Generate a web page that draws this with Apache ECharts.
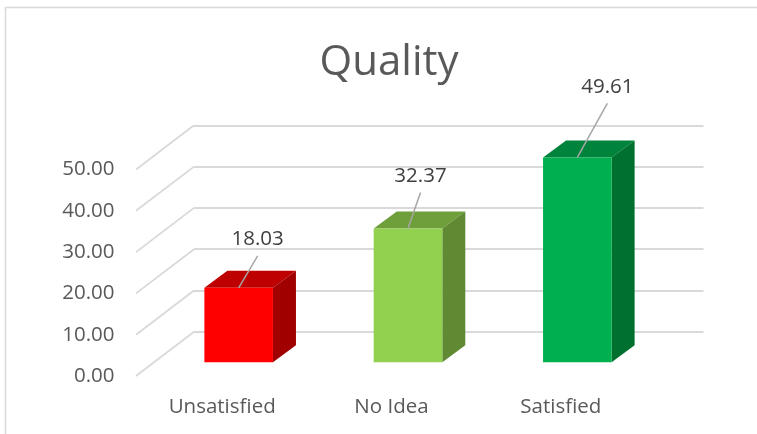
<!DOCTYPE html>
<html><head><meta charset="utf-8">
<style>html,body{margin:0;padding:0;background:#fff}#c{width:757px;height:434px}</style>
<script src="https://cdn.jsdelivr.net/npm/echarts@6/dist/echarts.min.js"></script>
</head><body><div id="c"></div>
<script>
const categories = ['Unsatisfied', 'No Idea', 'Satisfied'];
const values = [18.03, 32.37, 49.61];
const wallTicks = [0, 10, 20, 30, 40, 50];
const faceColors = ['#FF0000', '#92D050', '#00B050'];
const topColors = ['#BF0000', '#6F9F3B', '#00843C'];
const sideColors = ['#A00000', '#5F8A33', '#00702F'];
const leaderEnds = [[19, -32], [12.5, -36], [30, -54]];
const labelLift = 16.5;
const FONT = '"Open Sans"';
const GREY = '#D9D9D9';
const DEPTH_X = 23, DEPTH_Y = 17;

const chart = echarts.init(document.getElementById('c'));
function hiddenY(i){return {gridIndex:i,type:'value',min:0,max:50,interval:10,show:false};}
function hiddenX(i){return {gridIndex:i,type:'category',data:categories,show:false};}
chart.setOption({
  animation:false,
  backgroundColor:'#fff',
  title:{text:'Quality',left:384,top:37,textAlign:'center',
    textStyle:{fontFamily:FONT,fontSize:42,fontWeight:'normal',color:'#595959'}},
  graphic:[{type:'polyline',silent:true,shape:{points:[[5.5,434],[5.5,7.5],[757,7.5]]},
    style:{stroke:GREY,lineWidth:1.5,fill:null}}],
  grid:[
    {left:194,top:125.3,width:509.5,height:206.5},
    {left:137.5,top:169.5,width:508,height:206.5},
    {left:154,top:155.8,width:508,height:206.5}
  ],
  xAxis:[hiddenX(0),
    {gridIndex:1,type:'category',data:categories,axisLine:{show:false},axisTick:{show:false},
     axisLabel:{margin:21,fontFamily:FONT,fontSize:20.5,color:'#595959'}},
    hiddenX(2)],
  yAxis:[
    {gridIndex:0,type:'value',min:0,max:50,interval:10,axisLine:{show:false},axisTick:{show:false},
     axisLabel:{show:false},splitLine:{lineStyle:{color:GREY,width:1.8}}},
    {gridIndex:1,type:'value',min:0,max:50,interval:10,axisLine:{show:false},axisTick:{show:false},
     splitLine:{show:false},
     axisLabel:{margin:23,fontFamily:FONT,fontSize:20.5,color:'#595959',formatter:v=>v.toFixed(2)}},
    hiddenY(2)],
  series:[
    {type:'custom',xAxisIndex:0,yAxisIndex:0,clip:false,silent:true,z:1,
     data:wallTicks.map(v=>[0,v]),
     encode:{x:0,y:1},
     renderItem(params,api){
       const y=api.coord([0,api.value(1)])[1], x=params.coordSys.x;
       return {type:'line',shape:{x1:x,y1:y,x2:x-58,y2:y+44.2},style:{stroke:GREY,lineWidth:1.8}};
     }},
    {type:'custom',xAxisIndex:2,yAxisIndex:2,clip:false,silent:true,z:3,
     data:values.map((v,i)=>[i,v]),
     encode:{x:0,y:1},
     renderItem(params,api){
       const i=params.dataIndex, v=api.value(1);
       const top=api.coord([i,v]), base=api.coord([i,0]);
       const w=api.size([1,0])[0]*0.405;
       const l=top[0]-w/2, r=top[0]+w/2, t=top[1], b=base[1];
       const end=leaderEnds[i];
       return {type:'group',children:[
         {type:'polygon',shape:{points:[[l,t],[l+DEPTH_X,t-DEPTH_Y],[r+DEPTH_X,t-DEPTH_Y],[r,t]]},style:{fill:topColors[i]}},
         {type:'polygon',shape:{points:[[r,t],[r+DEPTH_X,t-DEPTH_Y],[r+DEPTH_X,b-DEPTH_Y],[r,b]]},style:{fill:sideColors[i]}},
         {type:'rect',shape:{x:l,y:t,width:w,height:b-t},style:{fill:faceColors[i]}},
         {type:'line',shape:{x1:top[0],y1:t,x2:top[0]+end[0],y2:t+end[1]},style:{stroke:'#A6A6A6',lineWidth:1.5}},
         {type:'text',style:{text:v.toFixed(2),x:top[0]+end[0],y:t+end[1]-labelLift,align:'center',verticalAlign:'middle',
           fontFamily:FONT,fontSize:20.5,fill:'#404040'}}
       ]};
     }}
  ]
});
</script></body></html>
